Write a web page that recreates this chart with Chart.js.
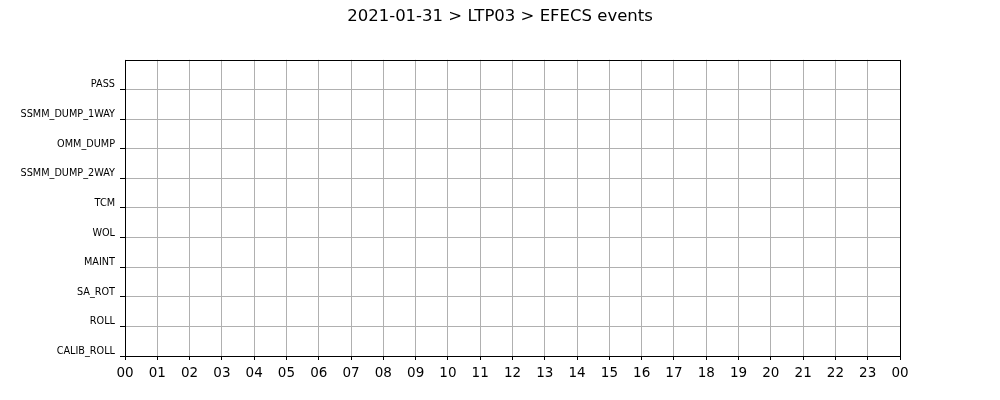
<!DOCTYPE html>
<html>
<head>
<meta charset="utf-8">
<script src="https://cdn.jsdelivr.net/npm/chart.js@4/dist/chart.umd.min.js"></script>
<style>
  html, body { margin: 0; padding: 0; background: #fff; }
  #wrap { width: 1000px; height: 400px; }
</style>
</head>
<body>
<div id="wrap"><canvas id="chart" width="1000" height="400"></canvas></div>
<script>
// categorias do eixo Y (de baixo para cima)
const categories = ['CALIB_ROLL', 'ROLL', 'SA_ROT', 'MAINT', 'WOL', 'TCM', 'SSMM_DUMP_2WAY', 'OMM_DUMP', 'SSMM_DUMP_1WAY', 'PASS'];
// rótulos das horas
const hourLabels = ['00', '01', '02', '03', '04', '05', '06', '07', '08', '09', '10', '11',
                    '12', '13', '14', '15', '16', '17', '18', '19', '20', '21', '22', '23', '00'];
// eventos do dia: nenhum registrado em 2021-01-31
const eventCategory = [];
const eventStart = [];
const eventEnd = [];

const FONT = "'DejaVu Sans', sans-serif";

// moldura preta em volta da área do gráfico
const frame = {
    id: 'frame',
    afterDraw(chart) {
        const { ctx, chartArea: a } = chart;
        ctx.save();
        ctx.strokeStyle = '#000';
        ctx.lineWidth = 1;
        ctx.strokeRect(Math.round(a.left) + 0.5, Math.round(a.top) + 0.5,
            Math.round(a.right - a.left), Math.round(a.bottom - a.top));
        ctx.restore();
    }
};

new Chart(document.getElementById('chart'), {
    type: 'bar',
    data: {
        datasets: [{
            data: eventCategory.map((c, i) => ({ x: [eventStart[i], eventEnd[i]], y: categories.indexOf(c) })),
            backgroundColor: '#1f77b4',
            barThickness: 20
        }]
    },
    options: {
        indexAxis: 'y',
        responsive: false,
        animation: false,
        layout: { padding: 0 },
        plugins: {
            legend: { display: false },
            tooltip: { enabled: false },
            title: {
                display: true,
                text: '2021-01-31 > LTP03 > EFECS events',
                color: '#000',
                font: { family: FONT, size: 16.5, weight: 'normal' },
                padding: { top: 7, bottom: 33 }
            }
        },
        scales: {
            x: {
                type: 'linear',
                min: 0,
                max: 24,
                offset: false,
                afterBuildTicks: s => { s.ticks = hourLabels.map((_, i) => ({ value: i })); },
                afterFit: s => { s.height = 44; },
                ticks: {
                    autoSkip: false,
                    maxRotation: 0,
                    color: '#000',
                    padding: 5,
                    font: { family: FONT, size: 13.5 },
                    callback: (v, i) => hourLabels[i]
                },
                grid: { color: '#b0b0b0', lineWidth: 1, tickColor: '#000', tickLength: 4, offset: false },
                border: { display: false }
            },
            y: {
                type: 'linear',
                min: 0,
                max: 10,
                offset: false,
                afterBuildTicks: s => { s.ticks = categories.map((_, i) => ({ value: i })); },
                afterFit: s => { s.width = 125; },
                ticks: {
                    autoSkip: false,
                    color: '#000',
                    padding: 5,
                    labelOffset: -4.5,
                    font: { family: FONT, size: 9.7 },
                    callback: (v, i) => categories[i]
                },
                grid: { color: '#b0b0b0', lineWidth: 1, tickColor: '#000', tickLength: 5, offset: false },
                border: { display: false }
            },
            // margem direita vazia
            yr: {
                type: 'linear',
                position: 'right',
                display: true,
                afterFit: s => { s.width = 100; },
                ticks: { display: false },
                grid: { display: false, drawTicks: false },
                border: { display: false }
            }
        }
    },
    plugins: [frame]
});
</script>
</body>
</html>
